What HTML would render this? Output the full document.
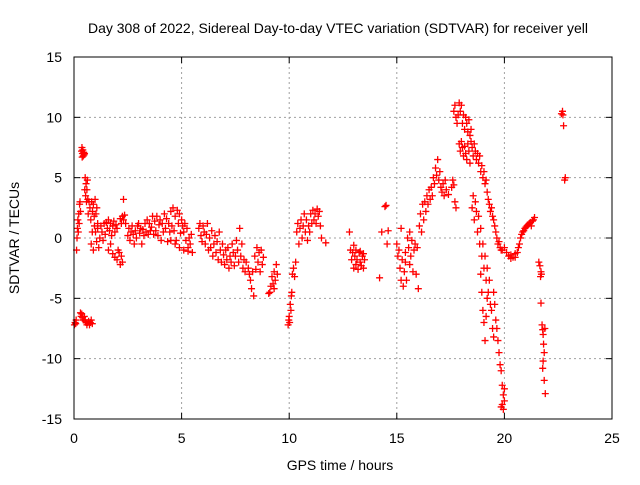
<!DOCTYPE html>
<html><head><meta charset="utf-8"><style>
body{margin:0;background:#fff}
svg text{font-family:"Liberation Sans",sans-serif;font-size:14px;fill:#000}
</style></head><body>
<svg id="chart" width="640" height="480" xmlns="http://www.w3.org/2000/svg">
<text x="338" y="33" text-anchor="middle">Day 308 of 2022, Sidereal Day-to-day VTEC variation (SDTVAR) for receiver yell</text>
<text x="340" y="470" text-anchor="middle">GPS time / hours</text>
<text transform="translate(19,238) rotate(-90)" text-anchor="middle">SDTVAR / TECUs</text>
<g id="grid"></g><g id="ticks"></g><g id="pts"></g>
<rect x="74" y="57" width="538" height="362" fill="none" stroke="#000" stroke-width="1"/>
</svg>
<script>
const xTicks=[0,5,10,15,20,25];
const yTicks=[-15,-10,-5,0,5,10,15];
// [hour, SDTVAR] observations
const observations=[
[0.02,-7.2],[0.05,-7],[0.08,-7.1],[0.1,-6.8],[0.12,-1],[0.14,0],[0.16,0.8],[0.18,1.5],[0.2,0.5],[0.22,2],[0.24,1.2],[0.26,2.8],[0.28,3],[0.3,2.2],
[0.3,-6.2],[0.33,-6.5],[0.36,-6.3],[0.4,-6.6],[0.44,-6.8],[0.48,-6.5],[0.52,-6.9],[0.56,-7],[0.6,-7.2],[0.64,-7],[0.68,-6.9],[0.72,-7.2],[0.76,-7],[0.8,-6.8],[0.85,-7.1],
[0.35,7.2],[0.37,7.5],[0.39,7],[0.41,7.3],[0.43,6.8],[0.45,7.1],[0.47,6.9],[0.49,7],[0.38,6.7],
[0.5,4],[0.52,5],[0.54,3.5],[0.56,4.5],[0.58,3],[0.6,4],[0.62,4.8],[0.64,3.2],[0.66,2],[0.7,3],[0.74,2.5],[0.78,1.5],[0.82,3],[0.86,2.2],[0.9,2.8],[0.94,1.8],[0.98,3.2],[1.02,2],[1.06,2.5],[1.1,1.2],
[0.8,-0.5],[0.85,0.5],[0.9,-1],[0.95,1],[1.0,0.5],[1.05,-0.3],[1.1,0.8],[1.15,-0.8],[1.2,0],[1.25,1],[1.3,0.5],[1.35,-0.2],[1.4,1.2],[1.45,0.3],[1.5,1.3],[1.55,0.8],[1.6,1.5],[1.65,0.6],[1.7,1.2],[1.75,0.2],[1.8,1],[1.85,1.4],[1.9,0.5],[1.95,1.1],[2.0,0.8],
[1.6,-1],[1.7,-0.5],[1.8,-1.3],[1.9,-1.6],[2.0,-1.8],[2.05,-1],[2.1,-1.2],[2.15,-2.2],[2.2,-1.5],[2.25,-2],[2.15,1.6],[2.2,1.2],[2.25,1.8],[2.3,1.5],[2.35,1.9],[2.4,1.2],[2.3,3.2],
[2.5,0.2],[2.55,0.8],[2.6,-0.2],[2.65,0.5],[2.7,1],[2.75,0.3],[2.8,-0.5],[2.85,0.6],[2.9,0],[2.95,1],[3.0,1.2],[3.05,0.4],[3.1,0.8],[3.15,-0.5],[3.2,0.7],[3.25,0.2],[3.3,1.2],[3.35,0.5],[3.4,1.5],[3.45,0.3],[3.5,1.2],[3.55,0.6],[3.6,0.9],[3.65,1.8],[3.7,0.3],[3.75,1.4],[3.8,0.6],[3.85,1.8],[3.9,0.2],[3.95,1.1],
[4.0,1.5],[4.05,-0.2],[4.1,1.2],[4.15,0.5],[4.2,2],[4.25,0.8],[4.3,1.6],[4.35,-0.3],[4.4,1.2],[4.45,0.5],[4.5,2.2],[4.55,1],[4.6,2.5],[4.65,0.6],[4.7,1.8],[4.75,-0.2],[4.8,2.3],[4.85,1.2],[4.9,2],[4.95,0.4],[5.0,1.5],[5.05,1],[5.1,0.5],[5.15,1.2],[5.2,-0.2],[5.25,0.8],[5.3,-0.8],[5.35,0],[5.4,-0.5],[5.45,0.3],[5.5,-1.2],
[4.5,-0.2],[4.7,-0.5],[4.9,-0.8],[5.1,-1],[5.3,-1.1],
[5.8,0.8],[5.85,1.2],[5.9,0.2],[5.95,-0.3],[6.0,1],[6.05,0.5],[6.1,-0.5],[6.15,0.3],[6.2,1.2],[6.25,-1],[6.3,0],[6.35,-0.8],[6.4,0.6],[6.45,-1.5],[6.5,-0.5],[6.55,0.2],[6.6,-1.2],[6.65,-0.3],[6.7,-1.8],[6.75,0.5],[6.8,-1],[6.85,-2],[6.9,-0.5],[6.95,-1.4],[7.0,-2.2],
[7.05,-1],[7.1,-1.8],[7.15,-0.8],[7.2,-2.5],[7.25,-1.5],[7.3,-2],[7.35,-0.5],[7.4,-1.2],[7.45,-2.3],[7.5,-1.5],[7.55,-0.2],[7.6,-1],[7.65,-2],[7.7,0.8],[7.75,-1.5],[7.8,-0.5],[7.85,-2.5],[7.9,-1.8],[7.95,-2.8],[8.0,-2],
[8.1,-2.5],[8.15,-3],[8.2,-3.5],[8.25,-4.2],[8.3,-2.8],[8.35,-4.8],[8.4,-1.5],[8.45,-2.6],[8.5,-0.8],[8.55,-2],[8.6,-1.2],[8.65,-2.8],[8.7,-1],[8.75,-2.2],[8.8,-1.6],
[9.1,-4.5],[9.15,-4],[9.2,-3.2],[9.25,-3.8],[9.3,-2.8],[9.35,-3.5],[9.4,-2.2],[9.45,-3],[9.05,-4.6],[9.3,-4.2],
[9.95,-7.2],[9.98,-6.8],[10.0,-6.5],[10.02,-7],[10.05,-5.5],[10.08,-6],[10.1,-4.8],[10.12,-4.5],[10.15,-3],[10.2,-2.5],[10.25,-3.2],[10.3,-2],
[10.35,0.5],[10.4,1.2],[10.45,-0.5],[10.5,0.8],[10.55,1.5],[10.6,0],[10.65,1],[10.7,2],[10.75,0.5],[10.8,1.5],[10.85,-0.2],[10.9,1],[10.95,0.5],[11.0,2],[11.05,1.2],[11.1,2.3],[11.15,1.5],[11.2,2],[11.25,1.2],[11.3,2.4],[11.35,1.8],[11.4,2.2],[11.45,1],[11.5,0],[11.7,-0.4],
[12.8,0.5],[12.85,-1],[12.9,-1.8],[12.95,-1.2],[13.0,-2.5],[13.05,-1.5],[13.1,-2.2],[13.15,-1.8],[13.2,-2.6],[13.25,-1.2],[13.3,-2],[13.35,-2.3],[13.4,-1.5],[13.45,-2.5],[13.5,-1.8],[13.0,-0.6],[13.1,-1],[13.3,-1.1],[13.45,-1.3],
[14.2,-3.3],[14.3,0.5],[14.45,2.6],[14.5,2.7],[14.55,-0.5],[14.6,0.6],
[15.0,-0.5],[15.05,-1.5],[15.1,-1],[15.15,-2.5],[15.2,-3.5],[15.25,-1.8],[15.3,-4],[15.35,-2.8],[15.4,-1.2],[15.45,-3.5],[15.5,0],[15.55,-0.8],[15.6,0.5],[15.65,-1.5],[15.7,-0.2],[15.75,-2.8],[15.8,-1],[15.85,-0.5],[15.9,-3],[15.95,-0.8],[16.0,-4.2],[15.2,0.8],[15.4,-2],[15.6,-2.2],
[16.05,1],[16.1,2],[16.15,0.5],[16.2,2.8],[16.25,1.5],[16.3,3],[16.35,2.2],[16.4,3.5],[16.45,2.8],[16.5,4],[16.55,3.2],[16.6,4.2],[16.65,3.5],[16.7,5],[16.75,4.5],[16.8,5.8],[16.85,5.2],[16.9,6.5],[16.95,4.8],[17.0,5.5],[17.05,4.2],[17.1,3.8],[17.15,4.5],[17.2,3.5],[17.25,4.8],[17.3,4],[17.4,3.6],
[17.55,4.2],[17.6,4.8],[17.65,4.4],[17.7,3],[17.75,2.5],[17.65,10.5],[17.7,11],[17.75,10],[17.8,9.5],[17.85,10.2],[17.9,11.2],[17.95,10.5],[18.0,11],[18.05,9.5],[18.1,10.2],[18.15,9],[18.2,10],[18.25,9.5],[18.3,8.8],[18.35,9.8],[18.4,8.5],[18.45,9],
[17.9,7.8],[17.95,7.2],[18.0,8],[18.05,7.5],[18.1,6.8],[18.15,7.6],[18.2,7],[18.25,6.5],[18.3,7.8],[18.35,7.2],[18.4,6.2],[18.45,8],[18.5,7.5],[18.55,6.8],[18.6,7.8],[18.65,7.2],[18.7,6.5],[18.75,7],[18.8,6.2],[18.85,6.8],[18.9,5.5],[18.95,6],[19.0,5],[19.05,5.5],[19.1,4.5],[19.15,4.8],[19.2,3.8],[19.25,3.2],[19.3,2.8],[19.35,2.2],[19.4,2.5],[19.45,1.8],[19.5,1.5],[19.55,1],[19.6,0.5],[19.65,0],[19.7,-0.5],[19.75,-0.3],[19.8,-0.8],[19.85,-1],[19.9,-1],
[18.5,2.5],[18.55,3.5],[18.6,1.5],[18.65,3],[18.7,2.2],[18.75,0.5],[18.8,1.8],[18.85,-0.5],[18.9,0.8],[18.95,-1.5],[19.0,-0.5],[19.05,-2.5],[19.1,-1.5],[19.15,-3.5],[19.2,-2.5],[19.25,-4.5],[19.3,-3.5],[19.35,-5.5],[19.4,-6],[19.45,-7.5],[19.5,-8.2],
[18.9,-3],[18.95,-4.5],[19.0,-6],[19.05,-7],[19.1,-8.5],[19.15,-6.5],[19.2,-5],
[19.5,-4.5],[19.55,-5.5],[19.6,-6.8],[19.65,-7.5],[19.7,-8.5],[19.75,-9.5],[19.8,-10.5],[19.85,-11],[19.9,-12.2],[19.95,-13],[20.0,-13.5],[19.9,-13.8],[19.95,-14.2],[20.0,-12.5],[19.85,-14],
[20.0,-0.8],[20.1,-1.2],[20.2,-1.5],[20.3,-1.4],[20.4,-1.6],[20.5,-1.3],[20.6,-1.2],[20.65,-0.8],[20.7,-0.5],[20.75,0],[20.8,0.3],[20.85,0.5],[20.9,0.6],[20.95,0.8],[21.0,0.9],[21.05,1],[21.1,1.1],[21.15,1.2],[21.2,1.3],[21.25,1],[21.3,1.4],[21.35,1.5],[21.4,1.7],[20.3,-1.7],[20.5,-1.6],
[21.6,-2],[21.65,-2.3],[21.7,-2.8],[21.72,-3],[21.68,-3.2],[21.7,-5.4],
[21.75,-7.2],[21.78,-7.6],[21.8,-8],[21.82,-8.8],[21.85,-9.5],[21.8,-10.2],[21.78,-10.8],[21.85,-11.8],[21.9,-12.9],[21.88,-7.5],
[22.65,10.3],[22.7,10.5],[22.72,10.2],[22.75,9.3],[22.8,4.8],[22.83,5]
];
const X=h=>74+h/25*538, Y=v=>238-v/15*181;
const NS='http://www.w3.org/2000/svg';
const grid=document.getElementById('grid'),ticks=document.getElementById('ticks'),pts=document.getElementById('pts');
function mk(tag,attrs,parent){const e=document.createElementNS(NS,tag);for(const k in attrs)e.setAttribute(k,attrs[k]);parent.appendChild(e);return e;}
xTicks.forEach(t=>{const x=X(t);
 if(t>0&&t<25){const g=mk('line',{x1:x,x2:x,y1:57,y2:419,stroke:'#a0a0a0','stroke-dasharray':'2,3'},grid);}
 mk('line',{x1:x,x2:x,y1:419,y2:413,stroke:'#000'},ticks);mk('line',{x1:x,x2:x,y1:57,y2:63,stroke:'#000'},ticks);
 const l=mk('text',{x:x,y:443,'text-anchor':'middle'},ticks);l.textContent=t;
 
 });
yTicks.forEach(t=>{const y=Y(t);
 if(t>-15&&t<15){const g=mk('line',{x1:74,x2:612,y1:y,y2:y,stroke:'#a0a0a0','stroke-dasharray':'2,3'},grid);}
 mk('line',{x1:74,x2:80,y1:y,y2:y,stroke:'#000'},ticks);mk('line',{x1:606,x2:612,y1:y,y2:y,stroke:'#000'},ticks);
 const l=mk('text',{x:62,y:y+5,'text-anchor':'end'},ticks);l.textContent=t;
 
 });
observations.forEach(o=>{const x=X(o[0]),y=Y(o[1]);
 const p=mk('path',{d:`M${x-3.5},${y}h7M${x},${y-3.5}v7`,stroke:'#f00','stroke-width':1.3,fill:'none'},pts);
 
 });
</script>
</body></html>
